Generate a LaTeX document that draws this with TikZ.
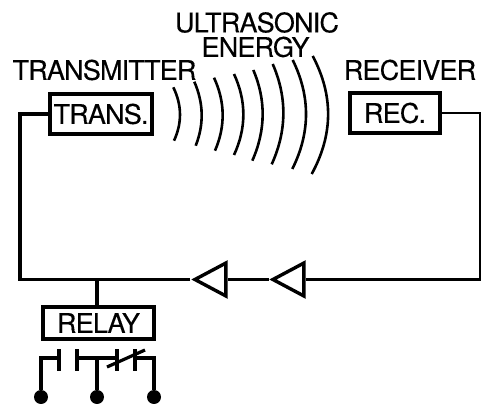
\documentclass[tikz,border=0pt]{standalone}
\usepackage{fontspec}
\setmainfont[LetterSpace=-3,FakeBold=0.25]{TeX Gyre Heros}
\usepackage{tikz}
\usetikzlibrary{positioning,shapes.geometric,calc}

\begin{document}
\begin{tikzpicture}[
  x=1pt, y=-1pt, font=\fontsize{27}{27}\selectfont,
  wire/.style={line width=3.2pt},
  box/.style={draw, line width=4.2pt, inner sep=0pt, align=center},
  heading/.style={inner sep=0pt},
  amp/.style={draw, line width=3.4pt, isosceles triangle, isosceles triangle stretches, shape border rotate=180, minimum width=33pt, minimum height=31pt, inner sep=0pt, anchor=apex},
  dot/.style={circle, fill=black, inner sep=0pt, minimum size=14pt},
  plate/.style={line width=4.6pt},
  wave/.style={line width=2.6pt}
]
\useasboundingbox (0,0) rectangle (482,404);

% labels (top)
\node[heading] (ultra) at (257,22.5) {ULTRASONIC};
\node[heading] (energy) at (255.5,47) {ENERGY};
\node[heading] (translabel) at (104.5,70) {TRANSMITTER};
\node[heading] (reclabel) at (410,70) {RECEIVER};

% transmitter and receiver boxes
\node[box, minimum width=102pt, minimum height=40pt] (trans) at (101,114) {TRANS.};
\node[box, minimum width=90pt, minimum height=40pt] (rec) at (395,113) {REC.};

% ultrasonic wave fronts
\foreach \xa/\ya/\xc/\yc/\xb/\yb in {
  173.3/87.3/186.3/114/174/140.7,
  194.3/81.7/208.3/113.7/195.7/145.7,
  214/77.7/230.8/114/215/150.7,
  234/74/252.7/114.5/234/155,
  253.3/70/272.5/115/252.3/160.7,
  272.7/64/294.5/114/271.7/164.3,
  292.7/60/319.5/114.5/292.3/169,
  312.7/56/344/115/311.7/174} {
  \draw[wave] (\xa,\ya) .. controls ($(\xa,\ya)!0.667!(\xc,\yc)$) and ($(\xb,\yb)!0.667!(\xc,\yc)$) .. (\xb,\yb);
}

% amplifiers
\node[amp] (amp1) at (190.5,279.5) {};
\node[amp] (amp2) at (268.5,279.5) {};

% loop wiring
\coordinate (rightcorner) at (480,279.5);
\coordinate (leftcorner) at (20,279.5);
\coordinate (junction) at (97,279.5);
\draw[wire, line width=2.7pt] (rec) -| (rightcorner) -- (amp2);
\draw[wire] (amp2) -- (amp1);
\draw[wire] (amp1) -- (leftcorner) |- (trans);

% relay
\node[box, minimum width=111pt, minimum height=32pt] (relay) at (98.5,323) {RELAY};
\draw[wire] (junction) -- (junction |- relay.north);

% relay contacts
\node[dot] (term1) at (41,397) {};
\node[dot] (term2) at (97,397) {};
\node[dot] (term3) at (154,397) {};
\coordinate (plate1) at (59,358);
\coordinate (plate2) at (77,358);
\coordinate (plate3) at (117,358);
\coordinate (plate4) at (135,358);
\draw[wire] (term1) |- (plate1);
\draw[wire] (plate2) -- (plate3);
\draw[wire] (term3) |- (plate4);
\draw[wire] (term2) -- (term2 |- plate2);
\foreach \p in {plate1,plate2,plate3,plate4} {
  \draw[plate] ([yshift=9pt]\p) -- ([yshift=-13pt]\p);
}
\draw[wire] (107,367) -- (145,350);
\end{tikzpicture}
\end{document}
